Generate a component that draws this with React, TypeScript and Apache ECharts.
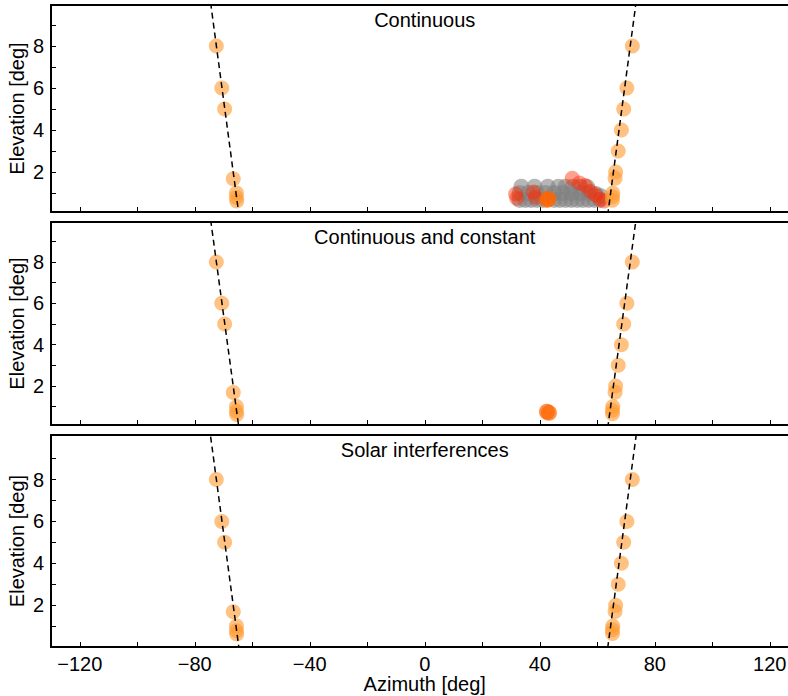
import React, { useEffect, useRef } from "react";
import * as echarts from "echarts";

// Sun track positions [azimuth, elevation] (same in every panel)
const sunLeft: [number, number][] = [
  [-72.5, 8.0], [-70.6, 6.0], [-69.6, 5.0], [-66.6, 1.68],
  [-65.5, 1.0], [-65.5, 0.78], [-65.4, 0.62],
];
const sunRight: [number, number][] = [
  [72.2, 8.0], [70.3, 6.0], [69.2, 5.0], [68.4, 4.0], [67.3, 3.0],
  [66.4, 2.0], [66.2, 1.7], [65.4, 1.0], [65.3, 0.82], [65.3, 0.65],
];

// Horizon limit lines (dashed)
const limitLeft: [number, number][] = [[-75.4, 11], [-63.7, -1]];
const limitRight: [number, number][] = [[62.7, -1], [74.4, 11]];

// Continuous detections (grey) and flagged detections (red)
const continuousPts: [number, number][] = [
  [33.0, 0.67], [35.0, 0.67], [37.0, 0.67], [39.0, 0.67], [41.0, 0.67], [45.0, 0.67],
  [47.0, 0.67], [49.0, 0.67], [51.0, 0.67], [53.0, 0.67], [55.0, 0.67], [57.0, 0.67],
  [59.0, 0.67], [61.0, 0.67],
  [33.0, 1.0], [36.0, 1.0], [39.0, 1.0], [42.0, 1.0], [45.0, 1.0], [48.0, 1.0],
  [51.0, 1.0], [54.0, 1.0], [57.0, 1.0], [59.5, 0.95], [61.2, 0.85],
  [33.6, 1.3], [38.2, 1.3], [42.8, 1.3], [46.5, 1.3], [49.0, 1.3], [51.5, 1.3],
  [54.0, 1.3], [56.5, 1.28],
];
const flaggedPts: [number, number][] = [
  [31.6, 0.95], [32.0, 0.75], [37.8, 1.05], [38.5, 0.8], [51.3, 1.7], [53.8, 1.48],
  [55.8, 1.36], [57.6, 1.08], [59.3, 0.92], [61.0, 0.7], [62.4, 0.62],
];
// Constant interference source
const constantPts1: [number, number][] = [[42.6, 0.67], [43.0, 0.72]];
const constantPts2: [number, number][] = [[42.5, 0.75], [43.2, 0.7]];

const panelTitles = ["Continuous", "Continuous and constant", "Solar interferences"];
const xTicks = [-120, -100, -80, -60, -40, -20, 0, 20, 40, 60, 80, 100, 120];
const xLabels = [-120, -80, -40, 0, 40, 80, 120];
const yTicks = [1, 2, 3, 4, 5, 6, 7, 8, 9];
const yLabels = [2, 4, 6, 8];

const FONT = "Liberation Sans, Arial, Helvetica, sans-serif";

export default function App() {
  const ref = useRef<HTMLDivElement>(null);

  useEffect(() => {
    if (!ref.current) return;
    const chart = echarts.init(ref.current, undefined, { renderer: "svg" });

    const left = 51;
    const plotW = 747.5; // -130..130 deg, right part runs past the visible edge
    const panels = [
      { top: 5, height: 207, ymin: 0.095, ymax: 9.95 },
      { top: 222, height: 203, ymin: 0.11, ymax: 9.94 },
      { top: 435, height: 212, ymin: 0.0, ymax: 10.13 },
    ];

    const grid = panels.map((p) => ({
      left, top: p.top, width: plotW, height: p.height,
      containLabel: false, outerBoundsMode: "none",
    }));
    const xAxis: any[] = [];
    const yAxis: any[] = [];
    panels.forEach((p, i) => {
      const last = i === panels.length - 1;
      xAxis.push({
        type: "value", gridIndex: i, min: -130, max: 130, position: "bottom",
        axisLine: { onZero: false, lineStyle: { color: "#000", width: 2 } },
        axisTick: { inside: true, length: 5, customValues: xTicks, lineStyle: { color: "#000", width: 1 } },
        axisLabel: last
          ? { customValues: xLabels, color: "#000", fontSize: 20, fontFamily: FONT, margin: 7,
              formatter: (v: number) => (v < 0 ? "\u2212" + Math.abs(v) : String(v)) }
          : { show: false },
        splitLine: { show: false },
        name: last ? "Azimuth [deg]" : "",
        nameLocation: "middle", nameGap: 27, nameMoveOverlap: false,
        nameTextStyle: { color: "#000", fontSize: 20, fontFamily: FONT },
      });
      xAxis.push({
        type: "value", gridIndex: i, min: -130, max: 130, position: "top",
        axisLine: { onZero: false, lineStyle: { color: "#000", width: 2 } },
        axisTick: { show: false }, axisLabel: { show: false }, splitLine: { show: false },
      });
      yAxis.push({
        type: "value", gridIndex: i, min: p.ymin, max: p.ymax, position: "left",
        axisLine: { onZero: false, lineStyle: { color: "#000", width: 2 } },
        axisTick: { inside: true, length: 5, customValues: yTicks, lineStyle: { color: "#000", width: 1 } },
        axisLabel: { customValues: yLabels, color: "#000", fontSize: 20, fontFamily: FONT, margin: 7 },
        splitLine: { show: false },
        name: "Elevation [deg]", nameLocation: "middle", nameGap: 24, nameMoveOverlap: false,
        nameTextStyle: { color: "#000", fontSize: 20, fontFamily: FONT },
      });
    });

    const series: any[] = [];
    const sunStyle = { color: "rgba(255,155,50,0.76)" };
    const dash = { color: "#000", width: 1.5, type: [6, 4] };
    panels.forEach((_, i) => {
      const xi = i * 2;
      if (i === 0) {
        series.push({
          type: "scatter", xAxisIndex: xi, yAxisIndex: i, data: continuousPts,
          symbolSize: 16, itemStyle: { color: "rgba(128,128,128,0.72)" }, z: 2,
        });
        series.push({
          type: "scatter", xAxisIndex: xi, yAxisIndex: i, data: flaggedPts,
          symbolSize: 15, itemStyle: { color: "rgba(255,40,0,0.55)" }, z: 3,
        });
      }
      if (i === 0 || i === 1) {
        series.push({
          type: "scatter", xAxisIndex: xi, yAxisIndex: i,
          data: i === 0 ? constantPts1 : constantPts2,
          symbolSize: 16, itemStyle: { color: "rgba(255,100,0,0.88)" }, z: 4,
        });
      }
      series.push({
        type: "scatter", xAxisIndex: xi, yAxisIndex: i, data: [...sunLeft, ...sunRight],
        symbolSize: 15, itemStyle: sunStyle, z: 4,
      });
      [limitLeft, limitRight].forEach((ln) => {
        series.push({
          type: "line", xAxisIndex: xi, yAxisIndex: i, data: ln, symbol: "none",
          lineStyle: dash, clip: true, z: 5,
        });
      });
    });

    const graphic = panels.map((p, i) => ({
      type: "text",
      x: left + plotW / 2,
      y: p.top + 15,
      z: 10,
      style: {
        text: panelTitles[i],
        font: `20px ${FONT}`,
        fill: "#000",
        align: "center",
        verticalAlign: "middle",
        textAlign: "center",
        textVerticalAlign: "middle",
      },
    }));

    chart.setOption({
      animation: false,
      backgroundColor: "#fff",
      grid, xAxis, yAxis, series, graphic,
    });

    return () => chart.dispose();
  }, []);

  return (
    <div style={{ position: "absolute", left: 0, top: 0, width: 788, height: 696, overflow: "hidden", background: "#fff" }}>
      <div ref={ref} style={{ width: 800, height: 696 }} />
    </div>
  );
}
